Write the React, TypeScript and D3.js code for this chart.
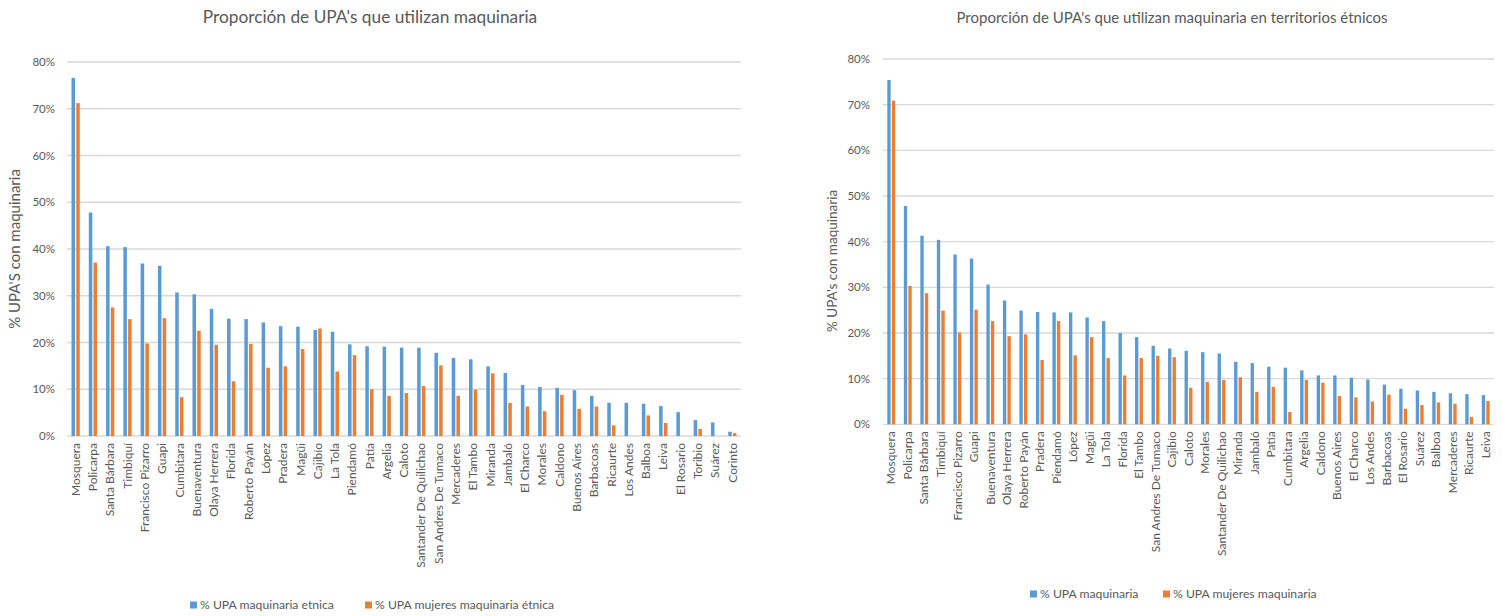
import React from "react";
import * as d3 from "d3";

const leftCategories = ["Mosquera","Policarpa","Santa Bárbara","Timbiquí","Francisco Pizarro","Guapi","Cumbitara","Buenaventura","Olaya Herrera","Florida","Roberto Payán","López","Pradera","Magüi","Cajibío","La Tola","Piendamó","Patía","Argelia","Caloto","Santander De Quilichao","San Andres De Tumaco","Mercaderes","El Tambo","Miranda","Jambaló","El Charco","Morales","Caldono","Buenos Aires","Barbacoas","Ricaurte","Los Andes","Balboa","Leiva","El Rosario","Toribio","Suárez","Corinto"];
const leftEtnica = [76.6,47.8,40.6,40.4,36.9,36.4,30.7,30.3,27.2,25.1,25.0,24.3,23.5,23.4,22.7,22.3,19.6,19.2,19.1,18.9,18.9,17.8,16.7,16.4,14.9,13.5,10.9,10.5,10.3,9.8,8.6,7.1,7.1,6.9,6.4,5.1,3.4,2.9,0.9];
const leftMujeres = [71.2,37.1,27.5,25.0,19.8,25.2,8.3,22.5,19.5,11.7,19.7,14.6,14.9,18.6,23.0,13.8,17.3,10.0,8.6,9.2,10.7,15.1,8.6,9.9,13.4,7.1,6.3,5.3,8.8,5.8,6.3,2.3,0,4.4,2.8,0,1.5,0,0.6];

const rightCategories = ["Mosquera","Policarpa","Santa Bárbara","Timbiquí","Francisco Pizarro","Guapi","Buenaventura","Olaya Herrera","Roberto Payán","Pradera","Piendamó","López","Magüi","La Tola","Florida","El Tambo","San Andres De Tumaco","Cajibío","Caloto","Morales","Santander De Quilichao","Miranda","Jambaló","Patía","Cumbitara","Argelia","Caldono","Buenos Aires","El Charco","Los Andes","Barbacoas","El Rosario","Suárez","Balboa","Mercaderes","Ricaurte","Leiva"];
const rightMaquinaria = [75.4,47.8,41.3,40.4,37.2,36.3,30.6,27.1,24.9,24.6,24.5,24.5,23.4,22.6,20.0,19.1,17.2,16.6,16.1,15.8,15.5,13.7,13.4,12.6,12.4,11.8,10.7,10.7,10.2,9.8,8.7,7.8,7.4,7.1,6.8,6.6,6.4];
const rightMujeres = [70.9,30.3,28.7,24.9,20.1,25.1,22.6,19.3,19.7,14.1,22.6,15.1,19.1,14.5,10.7,14.5,15.0,14.7,8.0,9.3,9.7,10.3,7.1,8.2,2.7,9.7,9.1,6.2,5.9,5.0,6.5,3.4,4.2,4.8,4.5,1.6,5.1];

const yTicks = [0,10,20,30,40,50,60,70,80];

const BLUE = "#5B9BD5";
const ORANGE = "#ED7D31";
const GRID = "#D9D9D9";
const TEXT = "#595959";
const FONT = "Lato, 'Open Sans', sans-serif";

type PanelProps = {
  title: string; titleX: number; titleSize: number;
  yLabel: string; yLabelX: number; yLabelY: number; yLabelSize: number;
  cats: string[]; s1: number[]; s2: number[];
  x0: number; x1: number; y0: number; y1: number; tickX: number;
  legend1: string; legend2: string; legendY: number; leg1X: number; leg2X: number;
};

function Panel(p: PanelProps) {
  const x = d3.scaleBand<string>().domain(p.cats).range([p.x0, p.x1]);
  const y = d3.scaleLinear().domain([0, 80]).range([p.y0, p.y1]);
  const bw = x.bandwidth() / 4.19;
  const labelTop = p.y0 + 7;
  return (
    <g fontFamily={FONT}>
      <text x={p.titleX} y={23} textAnchor="middle" fontSize={p.titleSize} fill={TEXT}>{p.title}</text>
      {yTicks.map(t => (
        <g key={t}>
          <line x1={p.x0} x2={p.x1} y1={y(t)} y2={y(t)} stroke={GRID} strokeWidth={1.3} />
          <text x={p.tickX} y={y(t)} dy="0.35em" textAnchor="end" fontSize={11.5} fill={TEXT}>{t + "%"}</text>
        </g>
      ))}
      <text transform={`translate(${p.yLabelX},${p.yLabelY}) rotate(-90)`} dy="0.35em" textAnchor="middle" fontSize={p.yLabelSize} fill={TEXT}>{p.yLabel}</text>
      {p.cats.map((c, i) => {
        const cx = (x(c) as number) + x.bandwidth() / 2;
        return (
          <g key={c}>
            {p.s1[i] > 0 && <rect x={cx - bw} y={y(p.s1[i])} width={bw - 0.6} height={p.y0 - y(p.s1[i])} fill={BLUE} />}
            {p.s2[i] > 0 && <rect x={cx + 0.6} y={y(p.s2[i])} width={bw - 0.6} height={p.y0 - y(p.s2[i])} fill={ORANGE} />}
            <text transform={`translate(${cx},${labelTop}) rotate(-90)`} dy="0.35em" textAnchor="end" fontSize={12} fill={TEXT}>{c}</text>
          </g>
        );
      })}
      <rect x={p.leg1X} y={p.legendY - 3.5} width={7} height={7} fill={BLUE} />
      <text x={p.leg1X + 10} y={p.legendY} dy="0.35em" fontSize={12.2} fill={TEXT}>{p.legend1}</text>
      <rect x={p.leg2X} y={p.legendY - 3.5} width={7} height={7} fill={ORANGE} />
      <text x={p.leg2X + 10} y={p.legendY} dy="0.35em" fontSize={12.2} fill={TEXT}>{p.legend2}</text>
    </g>
  );
}

export default function App() {
  return (
    <svg width={1502} height={616} style={{ position: "absolute", left: 0, top: 0, background: "#fff" }}>
      <rect width={1502} height={616} fill="#fff" />
      <Panel
        title="Proporción de UPA's que utilizan maquinaria" titleX={370} titleSize={17.3}
        yLabel="% UPA'S con maquinaria" yLabelX={15} yLabelY={249} yLabelSize={15}
        cats={leftCategories} s1={leftEtnica} s2={leftMujeres}
        x0={67} x1={741} y0={436} y1={62} tickX={55}
        legend1="% UPA maquinaria etnica" legend2="% UPA mujeres maquinaria étnica"
        legendY={605} leg1X={190} leg2X={365}
      />
      <Panel
        title="Proporción de UPA's que utilizan maquinaria en territorios étnicos" titleX={1172} titleSize={15}
        yLabel="% UPA's con maquinaria" yLabelX={832} yLabelY={261} yLabelSize={13.5}
        cats={rightCategories} s1={rightMaquinaria} s2={rightMujeres}
        x0={883} x1={1494} y0={424.3} y1={59} tickX={870}
        legend1="% UPA maquinaria" legend2="% UPA mujeres maquinaria"
        legendY={594} leg1X={1030} leg2X={1163}
      />
    </svg>
  );
}
